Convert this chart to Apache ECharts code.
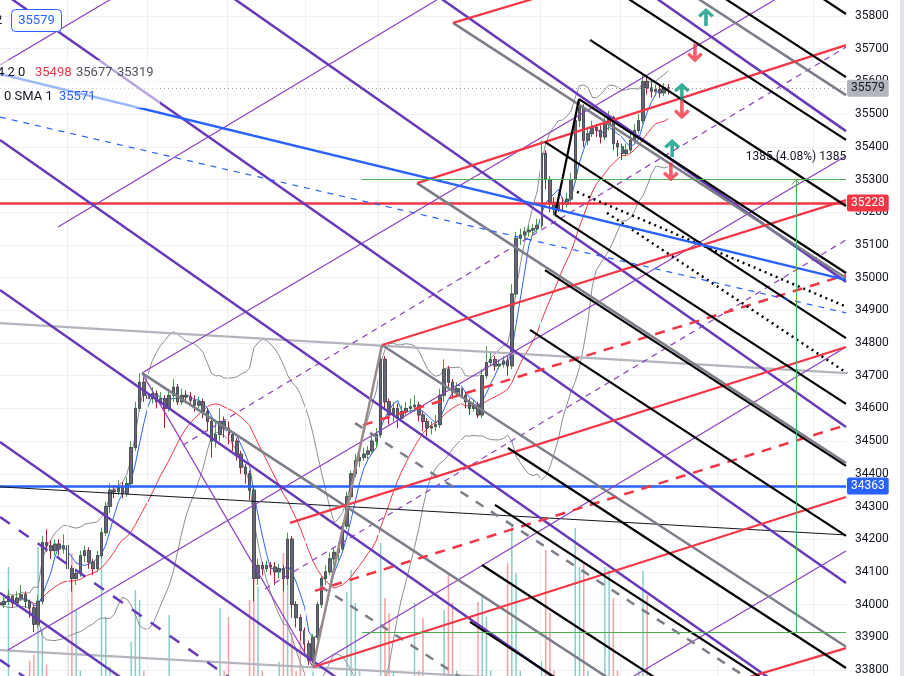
<!DOCTYPE html>
<html><head><meta charset="utf-8">
<script src="https://cdn.jsdelivr.net/npm/echarts@6.0.0/dist/echarts.min.js"></script>
<style>html,body{margin:0;padding:0;background:#fff;overflow:hidden}#c{width:904px;height:676px}</style>
</head><body><div id="c"></div>
<script>
// ---------- DATA ----------
// candles: [open, close, low, high], one per bar (x = bar index)
const candles = [
[34005,34000,33985,34020],[34000,34010,33990,34030],[34010,34025,34000,34045],[34025,34005,33990,34030],[34005,34020,33995,34040],
[34020,34030,34010,34060],[34030,34010,33990,34040],[34010,33990,33960,34015],[33990,33940,33916,34000],[33940,34010,33930,34030],
[34010,34190,34000,34210],[34190,34180,34160,34230],[34180,34165,34140,34195],[34165,34185,34150,34200],[34185,34170,34150,34200],
[34170,34180,34155,34215],[34180,34110,34080,34185],[34110,34080,34040,34120],[34080,34095,34060,34110],[34095,34150,34085,34165],
[34150,34165,34130,34180],[34165,34130,34110,34175],[34130,34110,34090,34140],[34110,34150,34100,34165],[34150,34220,34140,34235],
[34220,34300,34210,34315],[34300,34350,34280,34370],[34350,34345,34325,34365],[34345,34360,34335,34380],[34360,34340,34325,34375],
[34340,34370,34330,34390],[34370,34480,34360,34500],[34480,34600,34470,34620],[34600,34680,34590,34708],[34680,34640,34620,34695],
[34640,34630,34605,34660],[34630,34645,34615,34665],[34645,34620,34600,34655],[34620,34630,34610,34650],[34630,34600,34540,34640],
[34600,34640,34590,34660],[34640,34665,34620,34690],[34665,34620,34610,34675],[34620,34640,34610,34660],[34640,34635,34615,34655],
[34635,34625,34610,34650],[34625,34610,34590,34640],[34610,34620,34600,34635],[34620,34590,34570,34630],[34590,34560,34530,34600],
[34560,34500,34450,34570],[34500,34520,34480,34560],[34520,34560,34500,34600],[34560,34540,34510,34575],[34540,34520,34490,34560],
[34520,34500,34470,34530],[34500,34460,34440,34510],[34460,34420,34400,34470],[34420,34400,34370,34430],[34400,34350,34320,34410],
[34350,34080,34010,34360],[34080,34120,34060,34140],[34120,34110,34090,34130],[34110,34120,34100,34135],[34120,34115,34090,34130],
[34115,34100,34060,34130],[34100,34110,34080,34125],[34110,34080,34040,34120],[34080,34200,34060,34220],[34200,34000,33960,34210],
[34000,33960,33930,34010],[33960,33920,33890,33970],[33920,33880,33850,33930],[33880,33830,33815,33890],[33830,33900,33820,33910],
[33900,34000,33890,34010],[34000,34080,33990,34090],[34080,34100,34060,34120],[34100,34140,34090,34160],[34140,34160,34120,34175],
[34160,34170,34130,34190],[34170,34240,34160,34250],[34240,34330,34230,34345],[34330,34400,34320,34410],[34400,34440,34390,34460],
[34440,34450,34420,34470],[34450,34460,34440,34480],[34460,34470,34445,34485],[34470,34500,34460,34520],[34500,34520,34480,34540],
[34520,34750,34510,34789],[34750,34620,34600,34760],[34620,34580,34550,34630],[34580,34600,34560,34620],[34600,34570,34540,34615],
[34570,34590,34560,34610],[34590,34600,34580,34620],[34600,34605,34585,34630],[34605,34610,34590,34640],[34610,34580,34560,34620],
[34580,34560,34530,34590],[34560,34540,34515,34570],[34540,34545,34520,34560],[34545,34550,34530,34580],[34550,34640,34540,34660],
[34640,34720,34620,34750],[34720,34680,34660,34730],[34680,34650,34630,34690],[34650,34660,34640,34680],[34660,34640,34620,34670],
[34640,34620,34600,34650],[34620,34600,34580,34630],[34600,34610,34590,34630],[34610,34580,34570,34620],[34580,34700,34570,34720],
[34700,34740,34690,34790],[34740,34750,34730,34770],[34750,34730,34715,34760],[34730,34735,34720,34750],[34735,34745,34725,34760],
[34745,34730,34700,34760],[34730,34950,34720,34980],[34950,35120,34940,35140],[35120,35130,35100,35150],[35130,35140,35115,35155],
[35140,35145,35125,35160],[35145,35150,35130,35165],[35150,35160,35140,35180],[35160,35380,35150,35420],[35380,35300,35270,35390],
[35300,35230,35200,35310],[35230,35210,35190,35245],[35210,35230,35200,35250],[35230,35225,35205,35245],[35225,35240,35215,35260],
[35240,35300,35230,35320],[35300,35480,35290,35500],[35480,35520,35460,35546],[35520,35420,35400,35530],[35420,35440,35405,35460],
[35440,35460,35430,35480],[35460,35450,35430,35470],[35450,35430,35410,35465],[35430,35470,35420,35490],[35470,35490,35450,35510],
[35490,35410,35390,35495],[35410,35400,35370,35420],[35400,35380,35360,35410],[35380,35390,35370,35410],[35390,35420,35380,35440],
[35420,35450,35410,35470],[35450,35480,35440,35500],[35480,35600,35470,35620],[35600,35580,35560,35615],[35580,35570,35550,35600],
[35570,35575,35555,35590],[35575,35565,35550,35590],[35565,35580,35555,35595],[35580,35579,35560,35592]
];
const volumes = [
220,180,1357,200,250,160,210,420,480,1557,
727,380,200,160,190,240,1027,1497,927,320,
230,200,180,190,1557,857,360,210,180,200,
220,610,1127,1027,320,200,180,220,190,180,
877,220,200,160,180,200,220,190,240,210,
260,180,947,320,857,230,180,220,260,1027,
1497,1157,320,200,220,260,410,1497,1357,697,
320,627,280,260,310,220,180,250,230,200,
220,250,1107,1327,997,320,180,240,260,220,
1597,1047,897,320,180,230,240,260,997,320,
847,180,230,260,220,927,1277,997,320,260,
230,180,220,1007,1057,857,320,260,230,180,
1397,1777,1297,320,220,180,260,220,420,1527,
897,320,180,260,230,220,1747,1357,1397,320,
220,180,260,1357,1327,1047,320,180,260,220,
260,320,1317,1077,280,220,180,260,240
];
// horizontal price levels
const levelRed = 35228;
const levelBlue = 34363;
const lastPrice = 35579;
// measure tool: from / to price, start bar and vertical bar
const measureLow = 33915;
const measureHigh = 35300;
const measureStartBar = 85.58;
const measureBar = 188.18;
// vertical grid positions (bar index)
const gridXs = [15.8, 34.8, 53.7, 72.1, 89.4, 108.7, 127.7, 146.6, 169.5, 192.2];
// drawn lines: [[bar, price],[bar, price]]
const purpleThick = [
 [[151.30,35889],[200,35448]],
 [[101.65,35877],[200,34987]],
 [[52.01,35883],[200,34543]],
 [[0,35877],[200,34066]],
 [[0,35421],[200,33611]],
 [[0,34962],[141.84,33678]],
 [[0,34497],[89.83,33684]],
 [[0,34036],[37.83,33693]]
];
const purpleThickDashed = [
 [[0,34268],[56.74,33754]],
 [[0,33831],[7.09,33767]]
];
const purpleThin = [
 [[0,35650],[29.55,35877]],
 [[13.71,35155],[106.86,35877]],
 [[33.57,34708],[186.76,35877]],
 [[1.89,33861],[200,35372]],
 [[74.0,33809],[200,34788]],
 [[137.12,33684],[200,34164]],
 [[33.57,34708],[74.0,33809]]
];
const purpleThinDashed = [
 [[43.26,34488],[200,35705]],
 [[62.65,34048],[200,35115]]
];
const redSolid = [
 [[107.09,35779],[132.39,35877]],
 [[98.58,35289],[200,35711]],
 [[90.31,34794],[200,35237]],
 [[68.56,34250],[200,34788]],
 [[74.0,33809],[200,34329]],
 [[177.30,33779],[200,33867]]
];
const redDashed = [
 [[85.82,34549],[200,35008]],
 [[74.47,34042],[200,34549]]
];
const graySolid = [
 [[162.17,35877],[200,35558]],
 [[107.09,35779],[200,34999]],
 [[98.58,35289],[200,34433]],
 [[90.31,34794],[200,33871]],
 [[33.57,34708],[165.48,33592]]
];
const grayDashed = [
 [[83.92,34555],[200,33580]],
 [[75.65,34057],[108.75,33779]]
];
const blackSolid = [
 [[191.73,35877],[200,35806]],
 [[168.56,35877],[200,35613]],
 [[145.63,35877],[200,35421]],
 [[139.48,35727],[200,35219]],
 [[136.88,35546],[200,35014]],
 [[128.84,35415],[200,34815]],
 [[131.21,35192],[200,34614]],
 [[128.84,35023],[200,34424]],
 [[125.30,34840],[200,34210]],
 [[120.09,34479],[200,33806]],
 [[117.02,34305],[200,33608]],
 [[113.95,34121],[165.48,33687]],
 [[111.11,33947],[141.84,33687]],
 [[131.21,35192],[136.88,35546]]
];
const blackDotted = [
 [[136.41,35262],[200.24,34910]],
 [[143.50,35198],[200.24,34708]]
];
const brownHandle = [[[74.0,33809],[90.31,34794]]];
const lightGrayLines = [
 [[0,34861],[200,34708]],
 [[0,33861],[200,33718]]
];
const blackThin = [[[0,34360],[200,34213]]];
const blueSolid = [[[0,35623],[200,34993]]];
const blueDashed = [[[0,35491],[200,34892]]];
const arrowsUp = [[166.9,35797],[161.2,35568],[158.9,35396]];
const arrowsDown = [[164.3,35687],[161.2,35513],[158.6,35323]];

// ---------- CHART ----------
const chart = echarts.init(document.getElementById('c'), null, {renderer:'canvas'});
const closes = candles.map(c => c[1]);
function sma(n){
  return closes.map((_, i) => {
    const s = Math.max(0, i - n + 1); let t = 0;
    for (let k = s; k <= i; k++) t += closes[k];
    return [i, t / (i - s + 1)];
  });
}
function band(n, k, sign){
  return closes.map((_, i) => {
    const s = Math.max(0, i - n + 1); let t = 0;
    for (let j = s; j <= i; j++) t += closes[j];
    const m = t / (i - s + 1); let v = 0;
    for (let j = s; j <= i; j++) v += (closes[j] - m) * (closes[j] - m);
    const sd = Math.sqrt(v / (i - s + 1));
    return [i, m + sign * k * sd];
  });
}
function linesSeries(segs, color, width, dash, z, cap){
  return {type:'lines', coordinateSystem:'cartesian2d', polyline:false, silent:true, clip:true,
    z: z || 6, animation:false, effect:{show:false},
    lineStyle:{color:color, width:width, type:dash || 'solid', opacity:1, cap: cap || 'butt'},
    data: segs.map(s => ({coords: s}))};
}
const wickData = candles.map((c, i) => [i, c[0], c[1], c[2], c[3]]);
const bodyData = candles.map((c, i) => {
  const lo = Math.min(c[0], c[1]), hi = Math.max(c[0], c[1]);
  return [i, lo, hi, lo, hi];
});
const upCol = '#43a047', dnCol = '#b2222e';

const series = [
  {type:'line', data:[], silent:true, z:0,
   markLine:{silent:true, symbol:'none', animation:false, label:{show:false},
     lineStyle:{color:'#eef0f4', width:1, type:'solid'},
     data: gridXs.map(x => ({xAxis:x}))}},
  {type:'bar', yAxisIndex:1, data: volumes.map((v, i) => [i, v]), barWidth:1.5, z:1, silent:true,
   itemStyle:{color: p => candles[p.dataIndex][1] >= candles[p.dataIndex][0] ? 'rgba(38,166,154,0.55)' : 'rgba(239,83,80,0.55)'}},
  {type:'line', data: band(20, 2, 1), showSymbol:false, silent:true, z:2, lineStyle:{color:'#8a8d96', width:1}},
  {type:'line', data: band(20, 2, -1), showSymbol:false, silent:true, z:2, lineStyle:{color:'#8a8d96', width:1}},
  {type:'line', data: sma(20), showSymbol:false, silent:true, z:2, lineStyle:{color:'#f23645', width:1}},
  {type:'line', data: sma(5), showSymbol:false, silent:true, z:2, lineStyle:{color:'#2962ff', width:1}},
  {type:'candlestick', data: wickData, barWidth:3, z:3, silent:true,
   itemStyle:{color:upCol, color0:dnCol, borderColor:upCol, borderColor0:dnCol, borderWidth:1}},
  {type:'candlestick', data: bodyData, barWidth:3, z:4, silent:true,
   itemStyle:{color:'#656873', color0:'#656873', borderColor:'#4e5159', borderColor0:'#4e5159', borderWidth:1}},
  linesSeries(lightGrayLines, '#b2b5be', 2.2, 'solid', 5),
  linesSeries(blackThin, '#131722', 1, 'solid', 5),
  linesSeries(purpleThin, '#8e3fc0', 1.2, 'solid', 6),
  linesSeries(purpleThinDashed, '#8e3fc0', 1.2, [6,5], 6),
  linesSeries(purpleThick, '#673ab7', 2.5, 'solid', 6),
  linesSeries(purpleThickDashed, '#673ab7', 2.5, [12,11], 6),
  linesSeries(graySolid, '#7b7e88', 2.5, 'solid', 6),
  linesSeries(grayDashed, '#7b7e88', 2.5, [9,9], 6),
  linesSeries(redSolid, '#f23645', 2.2, 'solid', 6),
  linesSeries(redDashed, '#f23645', 2.5, [10,8], 6),
  linesSeries(blackSolid, '#000000', 2.2, 'solid', 7),
  linesSeries(blackDotted, '#000000', 2.5, [2,4], 7),
  linesSeries(brownHandle, '#9a8a8a', 2.5, 'solid', 7),
  linesSeries(blueSolid, '#2962ff', 2.5, 'solid', 7),
  linesSeries(blueDashed, '#2962ff', 1.2, [6,6], 7),
  linesSeries([[[measureStartBar, measureHigh],[200, measureHigh]],[[measureStartBar, measureLow],[200, measureLow]],[[measureBar, measureLow],[measureBar, measureHigh]]], '#4caf50', 1, 'solid', 7),
  {type:'line', data:[], silent:true, z:8,
   markLine:{silent:true, symbol:'none', animation:false, precision:0,
     label:{show:true, position:'end', distance:1, fontSize:12, fontFamily:'Roboto, sans-serif', padding:[3,4,2,4], borderRadius:2, formatter: p => String(p.value)},
     data:[
       {yAxis: levelRed, lineStyle:{color:'#f23645', width:2.5, type:'solid'}, label:{backgroundColor:'#f23645', color:'#ffffff'}},
       {yAxis: levelBlue, lineStyle:{color:'#2962ff', width:2.5, type:'solid'}, label:{backgroundColor:'#2962ff', color:'#ffffff'}},
       {yAxis: lastPrice, lineStyle:{color:'#9598a1', width:1, type:[1,3]}, label:{backgroundColor:'#b2b5be', color:'#131722'}}
     ]}},
  {type:'scatter', data: arrowsUp, z:9, silent:true, symbol:'path://M8,0L16,8L13.5,10.5L9.8,6.8L9.8,20L6.2,20L6.2,6.8L2.5,10.5L0,8Z', symbolSize:[16,18], itemStyle:{color:'#089981'}},
  {type:'scatter', data: arrowsDown, z:9, silent:true, symbol:'path://M8,20L16,12L13.5,9.5L9.8,13.2L9.8,0L6.2,0L6.2,13.2L2.5,9.5L0,12Z', symbolSize:[16,19], itemStyle:{color:'#f23645'}}
];

chart.setOption({
  animation:false,
  backgroundColor:'#ffffff',
  grid:{left:0, right:58, top:-16.7, bottom:-26.7, containLabel:false, outerBoundsMode:'none'},
  xAxis:{type:'value', min:0, max:200, show:false, splitLine:{show:false}},
  yAxis:[
    {type:'value', position:'right', min:33700, max:35900, interval:100,
     axisLine:{show:false}, axisTick:{show:false},
     axisLabel:{color:'#131722', fontSize:12, margin:9, fontFamily:'Roboto, sans-serif', formatter: v => String(v), hideOverlap:false},
     splitLine:{lineStyle:{color:'#eef0f4', width:1}}},
    {type:'value', min:0, max:7194, show:false, splitLine:{show:false}}
  ],
  series: series
});

// overlay texts (legend + measure label)
const mp = chart.convertToPixel({gridIndex:0}, [measureBar, measureHigh]);
const diff = measureHigh - measureLow;
const pct = (diff / measureLow * 100).toFixed(2);
const font13 = '13px Roboto, sans-serif';
chart.setOption({
  graphic:[
    {type:'rect', shape:{x:900, y:0, width:4, height:676}, style:{fill:'#e0e3eb'}, z:100},
    {type:'rect', shape:{x:0, y:60, width:160, height:48}, style:{fill:'rgba(255,255,255,0.55)'}, z:90},
    {type:'text', x:-5, y:21, style:{text:'2', font:font13, fill:'#131722', textVerticalAlign:'middle'}, z:100},
    {type:'rect', shape:{x:11.5, y:9.5, width:50, height:22, r:4}, style:{fill:'#ffffff', stroke:'#2962ff', lineWidth:1}, z:100},
    {type:'text', x:36.5, y:21, style:{text:String(lastPrice), font:font13, fill:'#2962ff', textAlign:'center', textVerticalAlign:'middle'}, z:101},
    {type:'text', x:-3, y:73, style:{text:'4 2 0', font:font13, fill:'#131722', textVerticalAlign:'middle'}, z:100},
    {type:'text', x:35, y:73, style:{text:'35498', font:font13, fill:'#f23645', textVerticalAlign:'middle'}, z:100},
    {type:'text', x:76, y:73, style:{text:'35677', font:font13, fill:'#50535e', textVerticalAlign:'middle'}, z:100},
    {type:'text', x:117, y:73, style:{text:'35319', font:font13, fill:'#50535e', textVerticalAlign:'middle'}, z:100},
    {type:'text', x:4, y:97, style:{text:'0 SMA 1', font:font13, fill:'#131722', textVerticalAlign:'middle'}, z:100},
    {type:'text', x:59, y:97, style:{text:'35571', font:font13, fill:'#2962ff', textVerticalAlign:'middle'}, z:100},
    {type:'text', x:mp[0], y:mp[1] - 23, style:{text: diff + ' (' + pct + '%) ' + diff, font:'12px Roboto, sans-serif', fill:'#131722', textAlign:'center', textVerticalAlign:'middle'}, z:100},
    {type:'polyline', shape:{points:[[mp[0]-4, mp[1]+5],[mp[0], mp[1]],[mp[0]+4, mp[1]+5]]}, style:{stroke:'#4caf50', lineWidth:1, fill:null}, z:100}
  ]
});
</script>
</body></html>
